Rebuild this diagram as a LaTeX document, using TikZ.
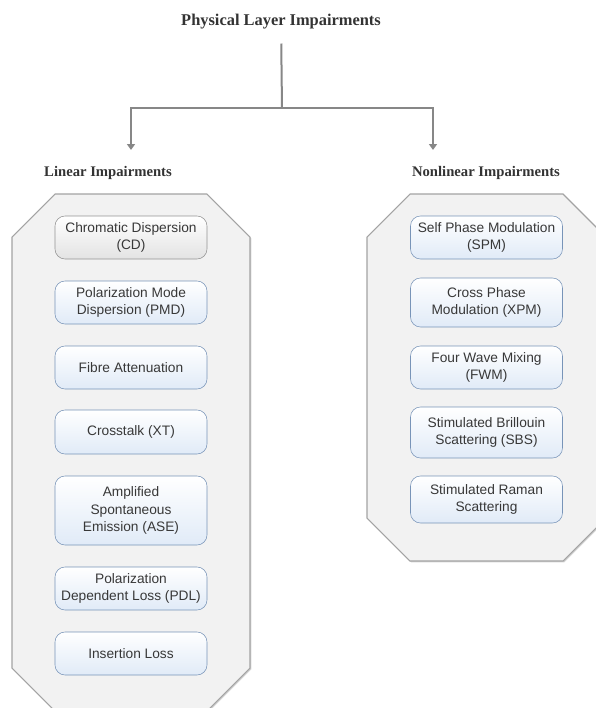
\documentclass[tikz,border=0pt]{standalone}
\usepackage{fontspec}
\setmainfont{Liberation Serif}
\newfontfamily\boxfont{Liberation Sans}
\usetikzlibrary{arrows.meta, shadows}
\definecolor{linkgray}{rgb}{0.53, 0.53, 0.53}
\definecolor{panelfill}{rgb}{0.95, 0.95, 0.95}
\definecolor{panelline}{rgb}{0.64, 0.64, 0.64}
\definecolor{boxline}{rgb}{0.47, 0.58, 0.72}
\definecolor{boxfill}{rgb}{0.88, 0.92, 0.97}
\definecolor{boxtext}{rgb}{0.22, 0.22, 0.22}

\tikzset{
  impbox/.style={draw=boxline, rounded corners=7.5pt, top color=white, bottom color=boxfill,
    minimum width=114pt, minimum height=32.25pt, inner sep=1pt, align=center, text=boxtext,
    font=\boxfont\fontsize{10.3}{12.8}\selectfont},
  selbox/.style={impbox, draw=gray!85, bottom color=gray!22},
  panel/.style={draw=panelline, fill=panelfill, line width=0.8pt,
    drop shadow={opacity=0.35, shadow xshift=1pt, shadow yshift=-1pt}},
  heading/.style={text=black!80, font=\bfseries\fontsize{11}{13}\selectfont},
}

\begin{document}
\begin{tikzpicture}[x=0.75pt, y=-0.75pt, >={Triangle[width=6pt,length=4.5pt]}]
        \useasboundingbox (0,0) rectangle (596,708);

        % the two panels
        \draw[panel] (55,194) -- (207,194) -- (250,237) -- (250,668) -- (206,712)
            -- (56,712) -- (12,668) -- (12,237) -- cycle;
        \draw[panel] (410,194) -- (563,194) -- (606,237) -- (606,518) -- (563,561)
            -- (410,561) -- (367,518) -- (367,237) -- cycle;

        \node[text=black!80, font=\bfseries\fontsize{12.3}{14}\selectfont] (title) at (281,22) {Physical Layer Impairments};
        \node[heading] (linear) at (108,173) {Linear Impairments};
        \node[heading] (nonlinear) at (486,173) {Nonlinear Impairments};

        \coordinate (split) at (282,108);
        \coordinate (linTip) at (131,150);
        \coordinate (nonTip) at (433,150);

        \draw[linkgray, line width=1.5pt, shorten <=7pt] (title) -- (split);
        \draw[linkgray, line width=1.5pt, ->] (split) -| (linTip);
        \draw[linkgray, line width=1.5pt, ->] (split) -| (nonTip);

        % linear side
        \node[selbox] (cd) at (131,237.5) {Chromatic Dispersion\\(CD)};
        \node[impbox] (pmd) at (131,302.5) {Polarization Mode\\Dispersion (PMD)};
        \node[impbox] (fa) at (131,367.5) {Fibre Attenuation};
        \node[impbox, minimum height=33pt] (xt) at (131,432) {Crosstalk (XT)};
        \node[impbox, minimum height=51.75pt] (ase) at (131,510.5) {Amplified\\Spontaneous\\Emission (ASE)};
        \node[impbox] (pdl) at (131,588.5) {Polarization\\Dependent Loss (PDL)};
        \node[impbox] (il) at (131,653.5) {Insertion Loss};

        % nonlinear side
        \node[impbox] (spm) at (486.5,237.5) {Self Phase Modulation\\(SPM)};
        \node[impbox, minimum height=36.75pt] (xpm) at (486.5,302.5) {Cross Phase\\Modulation (XPM)};
        \node[impbox] (fwm) at (486.5,367.5) {Four Wave Mixing\\(FWM)};
        \node[impbox, minimum height=38.25pt] (sbs) at (486.5,432.5) {Stimulated Brillouin\\Scattering (SBS)};
        \node[impbox, minimum height=35.25pt] (srs) at (486.5,499.5) {Stimulated Raman\\Scattering};
      \end{tikzpicture}
\end{document}
